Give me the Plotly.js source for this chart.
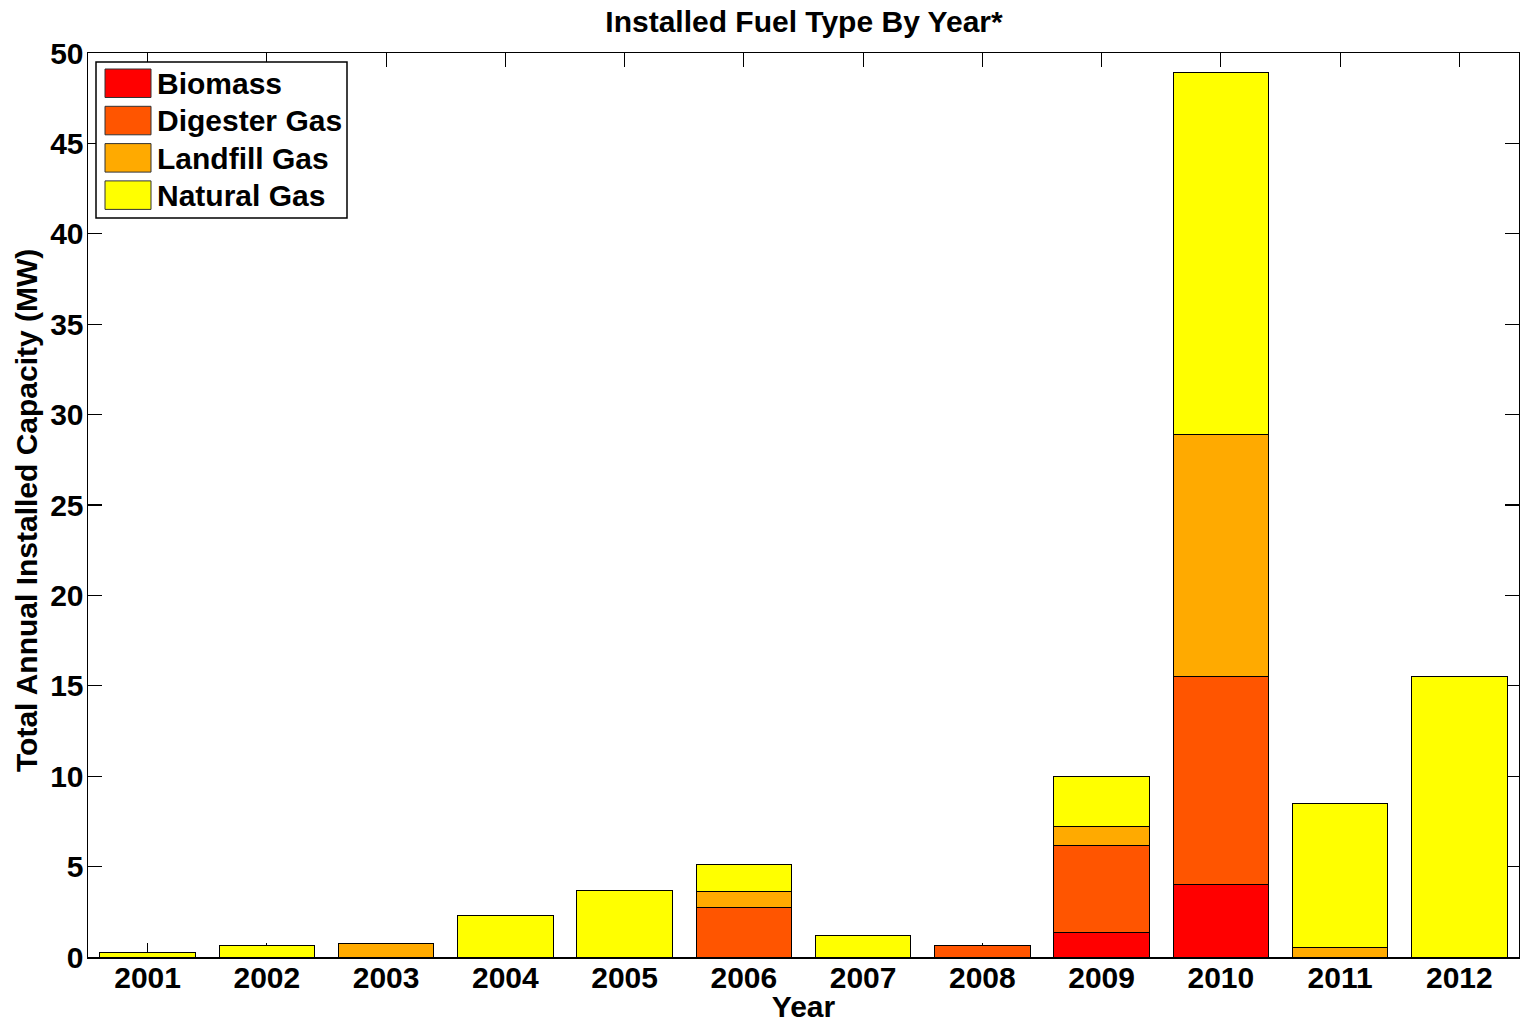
<!DOCTYPE html>
<html>
<head>
<meta charset="utf-8">
<script src="https://cdn.plot.ly/plotly-3.0.1.min.js"></script>
<style>
  html, body { margin: 0; padding: 0; background: #ffffff; }
  #chart { width: 1520px; height: 1023px; }
</style>
</head>
<body>
<div id="chart"></div>
<script>
// ---- Data (MW per year) ----
const years = [2001, 2002, 2003, 2004, 2005, 2006, 2007, 2008, 2009, 2010, 2011, 2012];
const biomass     = [0,    0,    0,    0,    0,    0,    0,    0,    1.38, 4.0,  0,    0];
const digesterGas = [0,    0,    0,    0,    0,    2.73, 0,    0.63, 4.79, 11.5, 0,    0];
const landfillGas = [0,    0,    0.77, 0,    0,    0.88, 0,    0,    1.03, 13.4, 0.5,  0];
const naturalGas  = [0.25, 0.62, 0,    2.3,  3.7,  1.5,  1.2,  0,    2.77, 20.0, 7.98, 15.5];

const seriesNames  = ["Biomass", "Digester Gas", "Landfill Gas", "Natural Gas"];
const seriesValues = [biomass, digesterGas, landfillGas, naturalGas];
const seriesColors = ["#FF0000", "#FF5500", "#FFAA00", "#FFFF00"];

const yTicks = [0, 5, 10, 15, 20, 25, 30, 35, 40, 45, 50];

const FONT = "Liberation Sans, Arial, Helvetica, sans-serif";
const FS = 30;
const boldFont = { family: FONT, size: FS, color: "#000000", weight: "bold" };

const traces = seriesNames.map((name, i) => ({
  type: "bar",
  name: name,
  x: years,
  y: seriesValues[i],
  width: 0.8,
  marker: { color: seriesColors[i], line: { color: "#000000", width: 1 } },
  showlegend: false,
  hoverinfo: "x+y+name"
}));

// ---- Custom legend (MATLAB-style large swatches) ----
const W = 1520, H = 1023;
const M = { l: 88, r: 1, t: 53, b: 66 };
const pw = W - M.l - M.r, ph = H - M.t - M.b;
const px2x = p => (p - M.l) / pw;
const py2y = p => 1 - (p - M.t) / ph;

const shapes = [{
  type: "rect", xref: "paper", yref: "paper",
  x0: px2x(96), x1: px2x(347), y0: py2y(218), y1: py2y(62),
  line: { color: "#000000", width: 1.5 }, fillcolor: "#ffffff", layer: "above"
}];
const annotations = [];
seriesNames.forEach((name, i) => {
  const top = 69 + i * 37.3;
  shapes.push({
    type: "rect", xref: "paper", yref: "paper",
    x0: px2x(105), x1: px2x(151), y0: py2y(top + 28.5), y1: py2y(top),
    line: { color: "#333333", width: 1 }, fillcolor: seriesColors[i], layer: "above"
  });
  annotations.push({
    xref: "paper", yref: "paper",
    x: px2x(155), y: py2y(top + 14.5),
    xanchor: "left", yanchor: "middle",
    text: name, showarrow: false,
    font: boldFont
  });
});

// y-axis title placed like the reference (slightly below plot centre)
annotations.push({
  xref: "paper", yref: "paper",
  x: px2x(27), y: py2y(511),
  xanchor: "center", yanchor: "middle",
  text: "Total Annual Installed Capacity (MW)",
  textangle: -90, showarrow: false,
  font: boldFont
});

const layout = {
  width: W, height: H,
  margin: M,
  paper_bgcolor: "#ffffff",
  plot_bgcolor: "#ffffff",
  barmode: "stack",
  bargap: 0.2,
  font: boldFont,
  title: {
    text: "Installed Fuel Type By Year*",
    font: boldFont,
    x: 804 / W, xref: "container", xanchor: "center",
    y: 1 - 21 / H, yref: "container", yanchor: "middle"
  },
  xaxis: {
    range: [2000.5, 2012.5],
    tickvals: years,
    ticktext: years.map(String),
    ticks: "inside", ticklen: 14, tickwidth: 1.2, tickcolor: "#000000",
    showline: true, linecolor: "#000000", linewidth: 1.5,
    mirror: "ticks",
    showgrid: false, zeroline: false,
    layer: "below traces",
    ticklabelstandoff: -7,
    tickfont: boldFont,
    title: { text: "Year", standoff: 9, font: boldFont },
    fixedrange: true
  },
  yaxis: {
    range: [0, 50],
    tickvals: yTicks,
    ticktext: yTicks.map(String),
    ticks: "inside", ticklen: 14, tickwidth: 1.2, tickcolor: "#000000",
    showline: true, linecolor: "#000000", linewidth: 1.5,
    mirror: "ticks",
    showgrid: false, zeroline: false,
    layer: "below traces",
    ticklabelstandoff: -3,
    tickfont: boldFont,
    fixedrange: true
  },
  shapes: shapes,
  annotations: annotations
};

Plotly.newPlot("chart", traces, layout, { displayModeBar: false, staticPlot: true });
</script>
</body>
</html>
